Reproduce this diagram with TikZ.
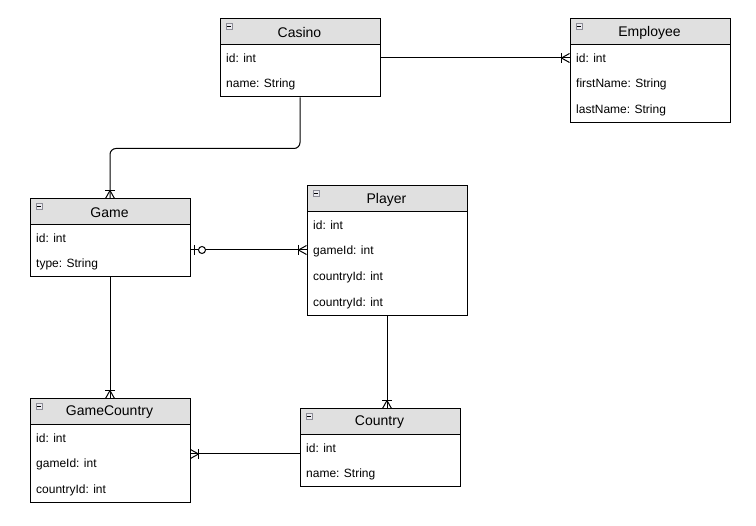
\documentclass[tikz,border=0pt]{standalone}
\usepackage{fontspec}
\setmainfont{Liberation Sans}
\usetikzlibrary{calc}
\definecolor{hdrgray}{RGB}{224,224,224}
\definecolor{icongray}{RGB}{140,140,150}
\definecolor{iconfill}{RGB}{235,235,240}
\tikzset{
  erbox/.style={draw=black, line width=1pt, fill=white, anchor=north west, inner sep=0pt, minimum width=160pt},
  erhdr/.style={draw=black, line width=1pt, fill=hdrgray, anchor=north west, inner sep=0pt, minimum width=160pt, minimum height=26pt},
  ertitle/.style={font=\fontsize{14}{16}\selectfont, anchor=center, inner sep=0pt},
  erfield/.style={font=\fontsize{12}{14}\selectfont, anchor=west, inner sep=0pt},
  ericon/.style={draw=icongray, fill=iconfill, line width=0.8pt, minimum width=6pt, minimum height=6pt, anchor=north west, inner sep=0pt},
  rel/.style={draw=black, line width=1pt},
}
\newcommand{\ertable}[5]{% name, x, y, height, title
  \node[erbox, minimum height=#4pt] (#1) at (#2,#3) {};
  \node[erhdr] (#1H) at (#2,#3) {};
  \node[ericon] (#1I) at (#2+6,#3+5) {};
  \draw[line width=0.9pt] ([xshift=1.5pt]#1I.west) -- ([xshift=-1.5pt]#1I.east);
  \node[ertitle] (#1T) at (#2+80,#3+14) {#5};
}
\newcommand{\crowfoot}[2]{% end, far point
  \path ($(#1)!8pt!(#2)$) coordinate (cfP);
  \draw[rel] ($(cfP)!5pt!90:(#1)$) -- ($(cfP)!5pt!-90:(#1)$);
  \draw[rel] (cfP) -- ($(#1)!4.5pt!90:(#2)$);
  \draw[rel] (cfP) -- ($(#1)!4.5pt!-90:(#2)$);
}
\newcommand{\zeroone}[2]{% end, far point
  \path ($(#1)!4pt!(#2)$) coordinate (zoB) ($(#1)!11.5pt!(#2)$) coordinate (zoC);
  \draw[rel] ($(zoB)!5pt!90:(#1)$) -- ($(zoB)!5pt!-90:(#1)$);
  \draw[rel, fill=white] (zoC) circle (3.5pt);
}
\begin{document}
\begin{tikzpicture}[x=1pt,y=-1pt]
  \fill[white] (0,0) rectangle (756,526);
  \useasboundingbox (0,0) rectangle (756,526);

  % tables
  \ertable{casino}{219.5}{18.5}{78}{Casino}
  \node[erfield] (casinoA) at (226,58) {id: int};
  \node[erfield] (casinoB) at (226,84) {name: String};

  \ertable{employee}{569.5}{18.5}{104}{Employee}
  \node[erfield] (employeeA) at (576,58) {id: int};
  \node[erfield] (employeeB) at (576,84) {firstName: String};
  \node[erfield] (employeeC) at (576,110) {lastName: String};

  \ertable{game}{29.5}{198.5}{78}{Game}
  \node[erfield] (gameA) at (36,238) {id: int};
  \node[erfield] (gameB) at (36,264) {type: String};

  \ertable{player}{306.5}{185.5}{130}{Player}
  \node[erfield] (playerA) at (313,225) {id: int};
  \node[erfield] (playerB) at (313,251) {gameId: int};
  \node[erfield] (playerC) at (313,277) {countryId: int};
  \node[erfield] (playerD) at (313,303) {countryId: int};

  \ertable{gamecountry}{29.5}{398.5}{104}{GameCountry}
  \node[erfield] (gamecountryA) at (36,438) {id: int};
  \node[erfield] (gamecountryB) at (36,464) {gameId: int};
  \node[erfield] (gamecountryC) at (36,490) {countryId: int};

  \ertable{country}{299.5}{408.5}{78}{Country}
  \node[erfield] (countryA) at (306,448) {id: int};
  \node[erfield] (countryB) at (306,474) {name: String};

  % Casino -- Employee
  \coordinate (ceA) at (casino.east |- casinoA);
  \coordinate (ceB) at (employee.west |- employeeA);
  \draw[rel] (ceA) -- (ceB);
  \crowfoot{ceB}{ceA}

  % Casino -- Game
  \coordinate (cgA) at ($(casino.south)+(0,51)$);
  \coordinate (cgB) at (game.north |- cgA);
  \draw[rel, rounded corners=6pt] (casino.south) -- (cgA) -| (game.north);
  \crowfoot{game.north}{cgB}

  % Game -- Player
  \coordinate (gpA) at (game.east |- 0,250);
  \coordinate (gpB) at (player.west |- 0,250);
  \draw[rel] (gpA) -- (gpB);
  \zeroone{gpA}{gpB}
  \crowfoot{gpB}{gpA}

  % Game -- GameCountry
  \draw[rel] (game.south) -- (gamecountry.north);
  \crowfoot{gamecountry.north}{game.south}

  % Player -- Country
  \coordinate (pcB) at (player.south |- country.north);
  \draw[rel] (player.south) -- (pcB);
  \crowfoot{pcB}{player.south}

  % Country -- GameCountry
  \coordinate (ccA) at ($(country.west)+(0,6)$);
  \coordinate (ccB) at (gamecountry.east |- ccA);
  \draw[rel] (ccA) -- (ccB);
  \crowfoot{ccB}{ccA}
\end{tikzpicture}
\end{document}
